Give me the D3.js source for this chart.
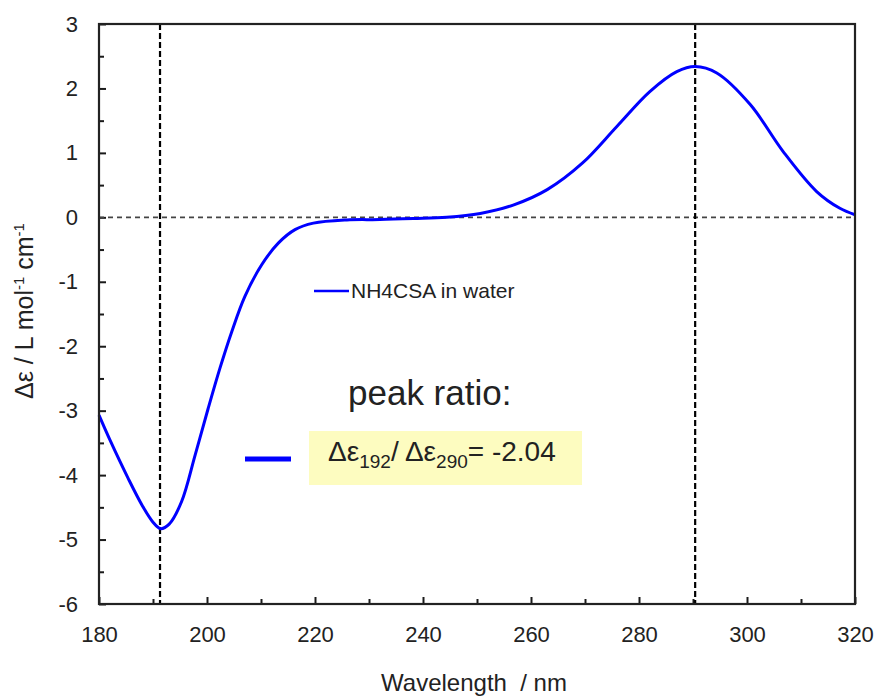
<!DOCTYPE html>
<html>
<head>
<meta charset="utf-8">
<script src="https://cdn.jsdelivr.net/npm/d3@7"></script>
<style>
    body { margin: 0; background: #fff; }
    svg text { font-family: "Liberation Sans", Arial, sans-serif; fill: #222; }
</style>
</head>
<body>
<svg id="chart" width="876" height="697"></svg>
<script>
// CD spectrum
const wavelength = [180, 182, 185.4, 188, 190, 191.4, 193, 195.3, 197.8, 200.2, 202.4, 204.6, 207, 210.1,
    213.2, 216.3, 219.7, 225.9, 232, 238.2, 244.4, 250.6, 256.7, 263, 269.5, 275.9, 282, 287, 290.4, 294.4,
    300.6, 306.7, 312.9, 317.2, 320];
const deltaEps = [-3.07, -3.45, -4.05, -4.47, -4.73, -4.83, -4.76, -4.41, -3.69, -2.97, -2.34, -1.77, -1.23, -0.74,
    -0.4, -0.19, -0.09, -0.04, -0.035, -0.02, 0.0, 0.06, 0.19, 0.43, 0.84, 1.41, 1.95, 2.26, 2.34, 2.24,
    1.75, 1.02, 0.4, 0.14, 0.04];

const xMajorTicks = [180, 200, 220, 240, 260, 280, 300, 320];
const xMinorTicks = [190, 210, 230, 250, 270, 290, 310];
const yMajorTicks = [-6, -5, -4, -3, -2, -1, 0, 1, 2, 3];
const yMinorTicks = [-5.5, -4.5, -3.5, -2.5, -1.5, -0.5, 0.5, 1.5, 2.5];
const peakLines = [191.3, 290.4];
const seriesName = "NH4CSA in water";
const ratioLabel = "peak ratio:";
const ratioValue = "-2.04";

const margins = {left: 99, top: 24, right: 21, bottom: 93};
const width = 876 - margins.left - margins.right;
const height = 697 - margins.top - margins.bottom;

const svg = d3.select("#chart");
const g = svg.append("g")
    .attr("transform", `translate(${margins.left}, ${margins.top})`);

const x = d3.scaleLinear().domain([180, 320]).range([0, width]);
const y = d3.scaleLinear().domain([-6, 3]).range([height, 0]);

// plain hyphen for negatives, like the original
const plain = d => String(d);

// ticks point inward
g.append("g").attr("transform", `translate(0, ${height})`)
    .call(d3.axisBottom(x).tickValues(xMajorTicks).tickSize(-7).tickPadding(22).tickFormat(plain));
g.append("g").attr("transform", `translate(0, ${height})`)
    .call(d3.axisBottom(x).tickValues(xMinorTicks).tickSize(-5).tickFormat(""));
g.append("g")
    .call(d3.axisLeft(y).tickValues(yMajorTicks).tickSize(-7).tickPadding(21).tickFormat(plain));
g.append("g")
    .call(d3.axisLeft(y).tickValues(yMinorTicks).tickSize(-5).tickFormat(""));

g.selectAll(".domain").remove();
g.selectAll(".tick line").attr("stroke", "#1a1a1a").attr("stroke-width", 2);
g.selectAll(".tick text").style("font-size", "22px").attr("fill", "#222");

// reference lines
g.append("line")
    .attr("x1", 0).attr("x2", width)
    .attr("y1", y(0)).attr("y2", y(0))
    .attr("stroke", "#444").attr("stroke-width", 1.6).attr("stroke-dasharray", "5,4");

g.selectAll(".peak").data(peakLines).enter().append("line")
    .attr("class", "peak")
    .attr("x1", d => x(d)).attr("x2", d => x(d))
    .attr("y1", 0).attr("y2", height)
    .attr("stroke", "#000").attr("stroke-width", 2.2).attr("stroke-dasharray", "6,3");

// spectrum
const line = d3.line()
    .x((d, i) => x(wavelength[i]))
    .y(d => y(d))
    .curve(d3.curveCatmullRom.alpha(0.5));

g.append("path")
    .datum(deltaEps)
    .attr("d", line)
    .attr("fill", "none")
    .attr("stroke", "#0000ff")
    .attr("stroke-width", 3);

// frame
g.append("rect")
    .attr("width", width).attr("height", height)
    .attr("fill", "none").attr("stroke", "#222").attr("stroke-width", 2.2);

// legend
g.append("line")
    .attr("x1", 314 - margins.left).attr("x2", 349 - margins.left)
    .attr("y1", 291 - margins.top).attr("y2", 291 - margins.top)
    .attr("stroke", "#0000ff").attr("stroke-width", 2.5);
g.append("text")
    .attr("x", 351 - margins.left).attr("y", 291 - margins.top).attr("dy", "0.35em")
    .style("font-size", "21px")
    .text(seriesName);

// peak ratio note
svg.append("text")
    .attr("x", 348).attr("y", 405)
    .style("font-size", "35px")
    .text(ratioLabel);

svg.append("line")
    .attr("x1", 245).attr("x2", 291).attr("y1", 459).attr("y2", 459)
    .attr("stroke", "#0000ff").attr("stroke-width", 5);

svg.append("rect")
    .attr("x", 309).attr("y", 431).attr("width", 273).attr("height", 54)
    .attr("fill", "#fdfcc0");

const ratio = svg.append("text")
    .attr("x", 328).attr("y", 461)
    .style("font-size", "28px");
ratio.append("tspan").text("Δε");
ratio.append("tspan").attr("dy", 7).style("font-size", "19px").text("192");
ratio.append("tspan").attr("dy", -7).text("/ Δε");
ratio.append("tspan").attr("dy", 7).style("font-size", "19px").text("290");
ratio.append("tspan").attr("dy", -7).text("= " + ratioValue);

// axis titles
svg.append("text")
    .attr("x", margins.left + width / 2 - 3).attr("y", 691)
    .attr("text-anchor", "middle")
    .style("font-size", "24px")
    .style("white-space", "pre")
    .text("Wavelength  / nm");

const yTitle = svg.append("text")
    .attr("transform", "translate(33, 311) rotate(-90)")
    .attr("text-anchor", "middle")
    .style("font-size", "25px");
yTitle.append("tspan").text("Δε / L mol");
yTitle.append("tspan").attr("dy", -9).style("font-size", "15px").text("-1");
yTitle.append("tspan").attr("dy", 9).text(" cm");
yTitle.append("tspan").attr("dy", -9).style("font-size", "15px").text("-1");
</script>
</body>
</html>
